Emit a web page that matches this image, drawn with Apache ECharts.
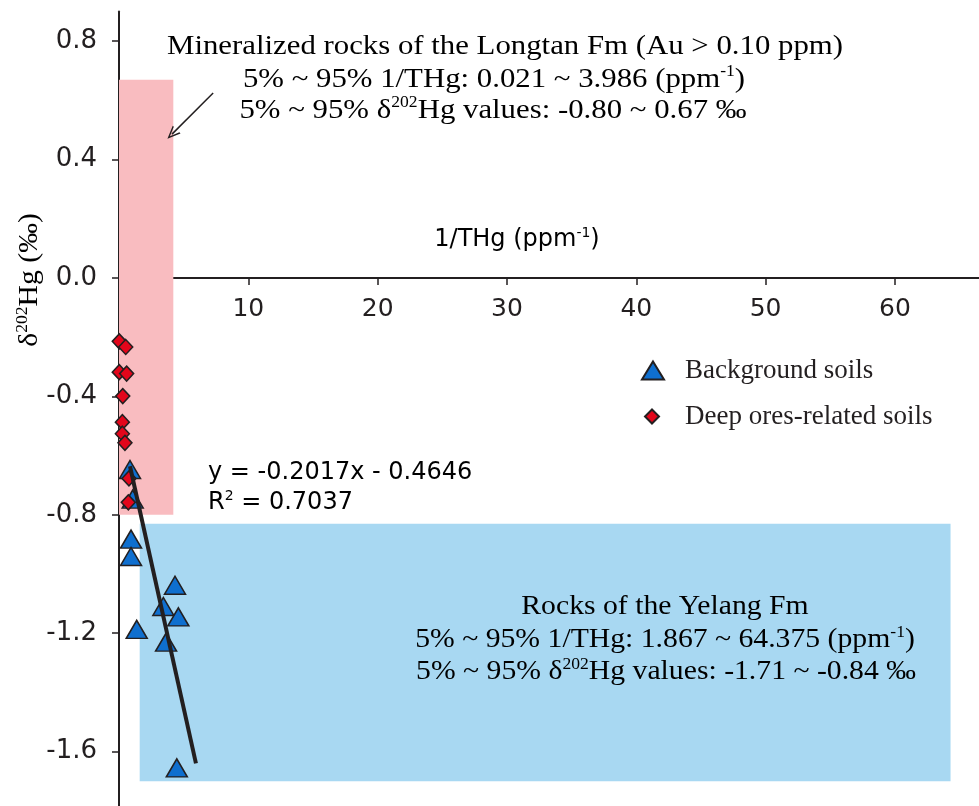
<!DOCTYPE html>
<html><head><meta charset="utf-8">
<script src="https://cdn.jsdelivr.net/npm/echarts@6/dist/echarts.min.js"></script>
<style>html,body{margin:0;padding:0;background:#fff}#c{width:979px;height:806px}</style>
</head><body><div id="c"></div>
<script>
// ---- data ----
const backgroundX = [0.85, 1.06, 0.93, 0.93, 4.33, 3.43, 4.59, 1.37, 3.64, 4.47];
const backgroundY = [-0.647, -0.747, -0.882, -0.941, -1.038, -1.110, -1.145, -1.187, -1.230, -1.655];
const deepX = [0.02, 0.52, 0.02, 0.59, 0.29, 0.26, 0.26, 0.46, 0.77, 0.72];
const deepY = [-0.214, -0.233, -0.318, -0.323, -0.399, -0.487, -0.526, -0.557, -0.677, -0.758];
const trendX = [0.85, 5.95];
const trendY = [-0.636, -1.64];
const longtanX = [0, 4.2];
const longtanY = [-0.80, 0.67];
const yelangX = [1.6, 64.3];
const yelangY = [-1.70, -0.83];
const arrowX = [7.28, 4.10];
const arrowY = [0.625, 0.486];
const xTicks = [10, 20, 30, 40, 50, 60];
const yTicks = [-1.6, -1.2, -0.8, -0.4, 0, 0.4, 0.8];
const seriesNames = ['Background soils', 'Deep ores-related soils'];

const INK = '#231f20';
const SANS = "'DejaVu Sans', sans-serif";
const SERIF = "'Liberation Serif', 'Times New Roman', serif";

const zip = (xs, ys) => xs.map((x, i) => [x, ys[i]]);

// layout of the plot area (pixels)
const Y_MAX = 0.9, Y_MIN = -1.785, X_MAX = 66.5;
const GRID_TOP = 11.6, PX_PER_Y = 296;
const GRID_H = (Y_MAX - Y_MIN) * PX_PER_Y;
const ZERO_FROM_BOTTOM = (0 - Y_MIN) * PX_PER_Y;

const chart = echarts.init(document.getElementById('c'), null, {renderer: 'canvas'});

const serifRich = (size) => ({
  n: {fontFamily: SERIF, fontSize: size, color: INK, lineHeight: size + 4},
  sup: {fontFamily: SERIF, fontSize: Math.round(size * 0.58), color: INK, lineHeight: 20, verticalAlign: 'top'}
});
const sansRich = (size) => ({
  n: {fontFamily: SANS, fontSize: size, color: INK, lineHeight: size + 4},
  sup: {fontFamily: SANS, fontSize: Math.round(size * 0.58), color: INK, lineHeight: 18, verticalAlign: 'top'}
});

function txt(x, y, text, rich, align, extra) {
  return Object.assign({
    type: 'text', x: x, y: y, z: 20,
    style: {text: text, rich: rich, align: align || 'center', verticalAlign: 'middle'}
  }, extra || {});
}

const option = {
  animation: false,
  backgroundColor: '#fff',
  grid: {left: 119, width: 860, top: GRID_TOP, height: GRID_H, containLabel: false, outerBoundsMode: 'none'},
  xAxis: {
    type: 'value', min: 0, max: X_MAX, position: 'bottom', offset: -ZERO_FROM_BOTTOM,
    axisLine: {onZero: false, lineStyle: {color: INK, width: 2}},
    axisTick: {show: true, length: 7, lineStyle: {color: INK, width: 1.5}, customValues: xTicks},
    axisLabel: {customValues: xTicks, margin: 19, color: INK, fontFamily: SANS, fontSize: 25},
    splitLine: {show: false}
  },
  yAxis: {
    type: 'value', min: Y_MIN, max: Y_MAX,
    axisLine: {show: true, onZero: false, lineStyle: {color: INK, width: 2}},
    axisTick: {show: true, length: 7, lineStyle: {color: INK, width: 1.5}, customValues: yTicks},
    axisLabel: {customValues: yTicks, margin: 22, color: INK, fontFamily: SANS, fontSize: 26,
      formatter: v => v.toFixed(1)},
    splitLine: {show: false}
  },
  legend: [
    {data: [{name: seriesNames[0], icon: 'triangle'}], left: 641, top: 357, padding: 0,
      itemWidth: 22, itemHeight: 18, symbolKeepAspect: false,
      textStyle: {fontFamily: SERIF, fontSize: 27, color: INK, padding: [0, 0, 0, 16]}},
    {data: [{name: seriesNames[1], icon: 'diamond'}], left: 644, top: 403, padding: 0,
      itemWidth: 14, itemHeight: 14, symbolKeepAspect: false,
      textStyle: {fontFamily: SERIF, fontSize: 27, color: INK, padding: [0, 0, 0, 21]}}
  ],
  series: [
    {
      type: 'line', name: 'areas', data: [], z: 1, silent: true,
      markArea: {
        silent: true, z: 1,
        data: [
          [{coord: [longtanX[0], longtanY[1]], itemStyle: {color: '#F9BCC0'}}, {coord: [longtanX[1], longtanY[0]]}],
          [{coord: [yelangX[0], yelangY[1]], itemStyle: {color: '#A8D8F2'}}, {coord: [yelangX[1], yelangY[0]]}]
        ],
        itemStyle: {opacity: 1, borderWidth: 0}
      },
      markLine: {
        silent: true, z: 3,
        symbol: ['none', 'path://M5,0 L10,11 L8.6,11 L5,3 L1.4,11 L0,11 Z'],
        symbolSize: [11, 13],
        lineStyle: {color: INK, width: 1.5, type: 'solid'},
        label: {show: false},
        data: [[{coord: [arrowX[0], arrowY[0]]}, {coord: [arrowX[1], arrowY[1]]}]]
      }
    },
    {
      type: 'scatter', name: seriesNames[0], data: zip(backgroundX, backgroundY), z: 3,
      symbol: 'triangle', symbolSize: [21, 18],
      itemStyle: {color: '#0F6FCF', borderColor: INK, borderWidth: 1.5, opacity: 1}
    },
    {
      type: 'scatter', name: seriesNames[1], data: zip(deepX, deepY), z: 4,
      symbol: 'diamond', symbolSize: [14, 15],
      itemStyle: {color: '#E3061B', borderColor: INK, borderWidth: 1.5, opacity: 1}
    },
    {
      type: 'line', name: 'trend', data: zip(trendX, trendY), z: 5,
      showSymbol: false, symbol: 'none',
      lineStyle: {color: INK, width: 4}
    }
  ],
  graphic: [
    txt(505, 47, '{n|Mineralized rocks of the Longtan Fm (Au > 0.10 ppm)}', serifRich(28), 'center', {scaleX: 1.1}),
    txt(494, 80, '{n|5% ~ 95% 1/THg: 0.021 ~ 3.986 (ppm}{sup|-1}{n|)}', serifRich(28), 'center', {scaleX: 1.1}),
    txt(493, 111, '{n|5% ~ 95% δ}{sup|202}{n|Hg values: -0.80 ~ 0.67 ‰}', serifRich(28), 'center', {scaleX: 1.1}),
    txt(665, 607, '{n|Rocks of the Yelang Fm}', serifRich(27), 'center', {scaleX: 1.1}),
    txt(665, 640, '{n|5% ~ 95% 1/THg: 1.867 ~ 64.375 (ppm}{sup|-1}{n|)}', serifRich(27), 'center', {scaleX: 1.1}),
    txt(666, 672, '{n|5% ~ 95% δ}{sup|202}{n|Hg values: -1.71 ~ -0.84 ‰}', serifRich(27), 'center', {scaleX: 1.1}),
    txt(208, 473, '{n|y = -0.2017x - 0.4646}', sansRich(24), 'left'),
    txt(208, 503, '{n|R}{sup|2}{n| = 0.7037}', sansRich(24), 'left'),
    txt(517, 240, '{n|1/THg (ppm}{sup|-1}{n|)}', sansRich(24), 'center'),
    txt(30, 280, '{n|δ}{sup|202}{n|Hg (‰)}', serifRich(27), 'center', {scaleX: 1.1, rotation: Math.PI / 2})
  ]
};
chart.setOption(option);
</script>
</body></html>
